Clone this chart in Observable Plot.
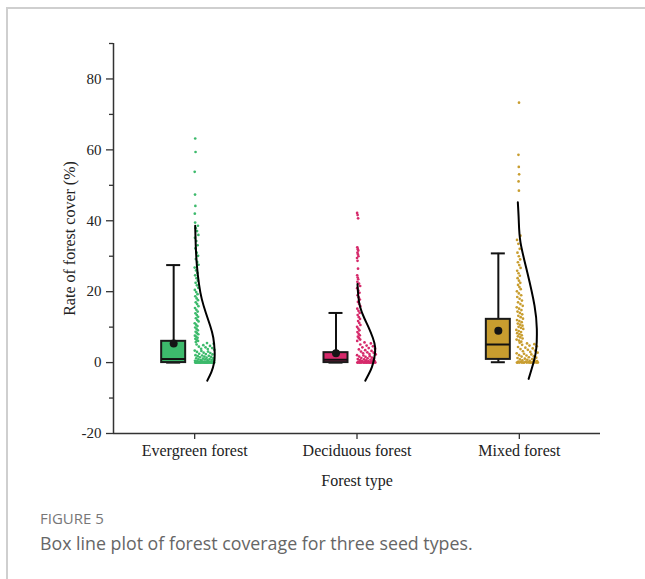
<!DOCTYPE html>
<html><head><meta charset="utf-8">
<script src="https://cdn.jsdelivr.net/npm/d3@7"></script>
<script src="https://cdn.jsdelivr.net/npm/@observablehq/plot@0.6"></script>
<style>
html,body{margin:0;padding:0;background:#fff;width:645px;height:579px;overflow:hidden;position:relative;}
#frame{position:absolute;left:6px;top:7px;right:0;bottom:0;border-top:2px solid #cfcfcf;border-left:2px solid #cfcfcf;}
#chart{position:absolute;left:0;top:0;}
#fig{position:absolute;left:40px;top:508px;font-family:"Open Sans",sans-serif;font-size:15px;color:#777;}
#cap{position:absolute;left:40px;top:531px;font-family:"Open Sans",sans-serif;font-size:17.8px;color:#666;}
</style></head><body>
<div id="frame"></div><div id="chart"></div>
<div id="fig">FIGURE 5</div><div id="cap">Box line plot of forest coverage for three seed types.</div>
<script>
const categories = ["Evergreen forest", "Deciduous forest", "Mixed forest"];
const colors = ["#3dba6c", "#d62a6b", "#c89d2f"];
const yTicks = [-20, 0, 20, 40, 60, 80];
const yMinorTicks = [-10, 10, 30, 50, 70, 90];

const q1 = [0, 0, 0.9];
const medians = [1.0, 0.8, 5.1];
const q3 = [6.0, 2.8, 12.2];
const means = [5.4, 2.6, 9.0];
const whiskerLow = [0, 0, 0.1];
const whiskerHigh = [27.5, 14.0, 30.8];

const evergreenValues = [63.2, 59.4, 53.8, 47.4, 44.2, 42.0, 39.5, 38.6, 37.9, 37.1, 36.0, 35.2, 34.3, 33.1, 32.2, 31.0, 30.1, 29.2, 28.4, 27.6, 26.8, 26.0, 25.3, 24.6, 23.8, 23.1, 22.5, 21.8, 21.1, 20.5, 19.9, 19.3, 18.7, 18.1, 17.6, 17.0, 16.5, 15.9, 15.4, 14.9, 14.4, 13.9, 13.4, 12.9, 12.5, 12.0, 11.6, 11.1, 10.7, 10.3, 9.9, 9.5, 9.1, 8.7, 8.3, 8.0, 7.6, 7.3, 7.0, 6.7, 6.4, 6.1, 5.8,
  5.5, 5.3, 5.1, 4.9, 4.7, 4.5, 4.3, 4.1, 3.9, 3.8, 3.6, 3.4, 3.3, 3.1, 3.0, 2.8, 2.7, 2.5, 2.4, 2.3, 2.1, 2.0, 1.9, 1.8, 1.7, 1.6, 1.5, 1.4, 1.3, 1.2, 1.1, 1.0, 0.9, 0.9, 0.8, 0.7, 0.7, 0.6, 0.5, 0.5, 0.4, 0.4, 0.3, 0.3, 0.2, 0.2, 0.2, 0.1, 0.1, 0.1, 0.1, 0, 0, 0, 0, 0, 0, 0, 0, 0, 0, 0, 0, 0, 0, 0, 0, 0, 0, 0, 0, 0, 0, 0, 0];
const deciduousValues = [42.2, 41.6, 40.7, 32.5, 32.0, 31.6, 31.0, 30.5, 30.0, 29.5, 28.7, 26.5, 24.6, 24.0, 23.5, 22.8, 22.3, 21.6, 21.0, 20.3, 19.7, 19.0, 18.4, 17.8, 17.1, 16.5, 15.9, 15.2, 14.6, 14.0, 13.4, 12.8, 12.3, 11.7, 11.2, 10.6, 10.1, 9.6, 9.1, 8.6, 8.1, 7.7, 7.3, 6.9, 6.5, 6.1,
  5.7, 5.4, 5.1, 4.8, 4.6, 4.3, 4.1, 3.9, 3.7, 3.5, 3.3, 3.1, 2.9, 2.8, 2.6, 2.4, 2.3, 2.1, 2.0, 1.8, 1.7, 1.6, 1.4, 1.3, 1.2, 1.1, 1.0, 0.9, 0.8, 0.7, 0.6, 0.6, 0.5, 0.4, 0.4, 0.3, 0.3, 0.2, 0.2, 0.1, 0.1, 0.1, 0, 0, 0, 0, 0, 0, 0, 0, 0, 0, 0, 0, 0, 0, 0, 0];
const mixedValues = [73.3, 58.6, 55.2, 53.1, 51.1, 48.5, 35.8, 34.6, 33.5, 32.1, 31.0, 30.0, 29.1, 28.3, 27.5, 26.7, 25.9, 25.2, 24.5, 23.8, 23.1, 22.5, 21.9, 21.3, 20.7, 20.1, 19.5, 19.0, 18.5, 18.0, 17.5, 17.0, 16.5, 16.0, 15.6, 15.2, 14.8, 14.4, 14.0, 13.6, 13.2, 12.8, 12.4, 12.0, 11.7, 11.4, 11.0, 10.7, 10.4, 10.1, 9.8, 9.5, 9.2, 8.9, 8.6, 8.3, 8.0, 7.7, 7.4, 7.1, 6.8, 6.5, 6.2, 5.9,
  5.6, 5.4, 5.2, 5.0, 4.8, 4.6, 4.4, 4.2, 4.0, 3.8, 3.6, 3.4, 3.2, 3.0, 2.8, 2.6, 2.5, 2.3, 2.1, 2.0, 1.8, 1.7, 1.5, 1.4, 1.3, 1.1, 1.0, 0.9, 0.8, 0.7, 0.6, 0.5, 0.4, 0.3, 0.3, 0.2, 0.2, 0.1, 0.1, 0, 0, 0, 0, 0, 0, 0, 0, 0, 0, 0, 0, 0];

const evergreenCurveValues = [38.6, 33.0, 27.3, 22.0, 17.9, 14.0, 10.4, 7.0, 3.0, 0.0, -2.7, -5.1];
const evergreenCurveDensity = [0, 0.03, 0.09, 0.2, 0.34, 0.55, 0.77, 0.93, 1.0, 0.97, 0.83, 0.62];
const deciduousCurveValues = [22.2, 19.0, 15.6, 12.5, 10.0, 7.0, 4.3, 1.5, -1.3, -3.3, -5.1];
const deciduousCurveDensity = [0, 0.04, 0.15, 0.38, 0.61, 0.85, 0.98, 0.94, 0.8, 0.62, 0.43];
const mixedCurveValues = [45.2, 40.0, 33.9, 25.4, 16.0, 9.5, 3.9, 0.1, -4.6];
const mixedCurveDensity = [0, 0.05, 0.14, 0.5, 0.88, 1.0, 0.97, 0.83, 0.57];

// layout constants (pixels)
const left = 113, right = 600;
const pxPerUnit = (right - left) / 3;
const u = px => px / pxPerUnit;
const curvePeak = [19.5, 18, 19];
const curveShift = [0.5, 0.5, -1.5];
const boxOffset = -21, boxHalf = 12, capHalf = 7;

const seriesValues = [evergreenValues, deciduousValues, mixedValues];
const curveValues = [evergreenCurveValues, deciduousCurveValues, mixedCurveValues];
const curveDensity = [evergreenCurveDensity, deciduousCurveDensity, mixedCurveDensity];

function spread(s, v) {
  if (s === 0) return v > 39 ? [0, 1] : v > 5.6 ? [0, 4] : [0, 20];
  if (s === 1) return v > 22.5 ? [0, 1.5] : v > 6 ? [0, 3.5] : [0, 19];
  return v > 40 ? [-1, 1] : v > 20 ? [-2.5, 4] : v > 5.7 ? [-3, 7] : [-3, 22];
}
// deterministic low-discrepancy jitter (van der Corput, base 3) for the strip layout
function vdc(n, b) { let q = 0, bk = 1 / b; while (n > 0) { q += (n % b) * bk; n = Math.floor(n / b); bk /= b; } return q; }

const center = s => s + 0.5;
const points = seriesValues.map((vals, s) => vals.map((v, i) => {
  const [a, w] = spread(s, v);
  const f = vdc(i + 7 + s * 11, 3);
  return {x: center(s) + u(a + f * w), y: v};
}));
const curves = curveValues.map((vals, s) => vals.map((v, i) => ({
  x: center(s) + u(curveShift[s] + curveDensity[s][i] * curvePeak[s]), y: v
})));
const boxes = categories.map((c, s) => ({
  bc: center(s) + u(boxOffset), q1: q1[s], q3: q3[s], med: medians[s], mean: means[s], lo: whiskerLow[s], hi: whiskerHigh[s], s
}));

const marks = [];
boxes.forEach(b => {
  marks.push(Plot.ruleX([b], {x: "bc", y1: "hi", y2: "q3", stroke: "#111", strokeWidth: 2}));
  marks.push(Plot.ruleX([b], {x: "bc", y1: "lo", y2: "q1", stroke: "#111", strokeWidth: 2}));
  marks.push(Plot.ruleY([b], {y: "hi", x1: d => d.bc - u(capHalf), x2: d => d.bc + u(capHalf), stroke: "#111", strokeWidth: 2}));
  marks.push(Plot.ruleY([b], {y: "lo", x1: d => d.bc - u(capHalf), x2: d => d.bc + u(capHalf), stroke: "#111", strokeWidth: 2}));
  marks.push(Plot.rect([b], {x1: d => d.bc - u(boxHalf), x2: d => d.bc + u(boxHalf), y1: "q1", y2: "q3", fill: colors[b.s], stroke: "#1a1a1a", strokeWidth: 2}));
  marks.push(Plot.ruleY([b], {y: "med", x1: d => d.bc - u(boxHalf), x2: d => d.bc + u(boxHalf), stroke: "#111", strokeWidth: 2}));
  marks.push(Plot.dot([b], {x: "bc", y: "mean", r: 4, fill: "#151515", stroke: null}));
});
points.forEach((p, s) => marks.push(Plot.dot(p, {x: "x", y: "y", r: 1.35, fill: colors[s], stroke: null})));
curves.forEach(c => marks.push(Plot.line(c, {x: "x", y: "y", curve: "natural", stroke: "#000", strokeWidth: 2})));

const chart = Plot.plot({
  width: 645, height: 500,
  marginLeft: left, marginRight: 645 - right, marginTop: 43, marginBottom: 67,
  x: {domain: [0, 3]},
  y: {domain: [-20, 90]},
  style: {fontFamily: "'Liberation Serif', serif", fontSize: "15px", color: "#222", background: "transparent"},
  marks: [
    Plot.axisY({ticks: yTicks, tickSize: 7, tickPadding: 5, tickFormat: d => String(d), fontSize: 15, label: null, stroke: "#333", strokeWidth: 1.3}),
    Plot.axisY({ticks: yMinorTicks, tickSize: 4, tickFormat: () => "", label: null, stroke: "#333", strokeWidth: 1.3}),
    Plot.axisX({ticks: [0.5, 1.5, 2.5], tickFormat: d => categories[Math.floor(d)], tickSize: 6, tickPadding: 5, fontSize: 16, label: null, stroke: "#333", strokeWidth: 1.3}),
    Plot.ruleX([0], {y1: -20, y2: 90, stroke: "#333", strokeWidth: 1.5}),
    Plot.ruleY([-20], {x1: 0, x2: 3, stroke: "#333", strokeWidth: 1.5}),
    Plot.text(["Rate of forest cover (%)"], {frameAnchor: "left", dx: -44, rotate: -90, textAnchor: "middle", lineAnchor: "middle", fontSize: 16, fill: "#222"}),
    Plot.text(["Forest type"], {frameAnchor: "bottom", dy: 47, textAnchor: "middle", lineAnchor: "middle", fontSize: 16, fill: "#222"}),
    ...marks
  ]
});
document.getElementById("chart").appendChild(chart);
</script></body></html>
